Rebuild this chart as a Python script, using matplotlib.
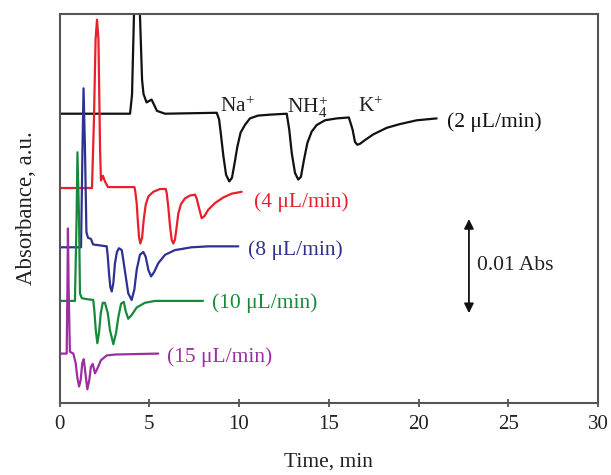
import matplotlib
matplotlib.use("Agg")
import matplotlib.pyplot as plt

# ---- data (time in min, signal in mAbs, traces offset vertically) ----
t_2 = [0.08, 3.93, 4.04, 4.15, 4.32, 4.48, 4.60, 4.68, 4.85, 5.13, 5.43, 5.88,
       8.76, 8.89, 8.98, 9.13, 9.28, 9.46, 9.61, 9.76, 9.91, 10.09, 10.33, 10.61, 11.06, 11.73, 12.66,
       12.80, 12.94, 13.12, 13.30, 13.45, 13.62, 13.81, 14.05, 14.33, 14.79, 15.44, 16.12,
       16.33, 16.46, 16.59, 16.74, 17.02, 17.48, 18.23, 18.97, 19.90, 21.01]
v_2 = [30.7, 30.7, 32.7, 41.3, 47.1, 41.3, 34.3, 32.8, 31.9, 32.2, 31.0, 30.7,
       30.8, 30.1, 28.7, 26.2, 24.2, 23.5, 23.9, 25.5, 27.2, 28.7, 29.5, 30.2, 30.5, 30.6, 30.7,
       29.0, 26.5, 24.4, 23.7, 24.0, 25.8, 27.6, 28.8, 29.5, 30.0, 30.2, 30.3,
       29.0, 27.7, 27.4, 27.5, 27.9, 28.5, 29.2, 29.6, 30.0, 30.2]

t_4 = [0.08, 1.81, 1.92, 2.01, 2.09, 2.17, 2.26, 2.31, 2.42, 2.53, 2.70,
       4.17, 4.21, 4.30, 4.36, 4.43, 4.50, 4.60, 4.69, 4.80, 4.95,
       5.23, 5.60, 5.92, 5.97, 6.06, 6.16, 6.25, 6.34, 6.43, 6.53,
       6.62, 6.77, 6.99, 7.27, 7.55, 7.64, 7.77, 7.92, 8.07, 8.29,
       8.66, 9.13, 9.59, 10.15]
v_4 = [22.8, 22.8, 30.1, 38.6, 40.7, 38.6, 26.9, 23.6, 24.1, 23.5, 22.9,
       22.9, 22.6, 21.2, 19.4, 17.6, 16.9, 17.5, 19.4, 21.0, 21.9,
       22.4, 22.7, 22.7, 22.3, 20.8, 18.7, 17.3, 16.9, 17.3, 18.7,
       20.1, 21.1, 21.7, 22.0, 22.1, 21.7, 20.7, 19.6, 19.8, 20.5,
       21.2, 21.8, 22.2, 22.4]

t_8 = [0.08, 1.20, 1.28, 1.34, 1.42, 1.50, 1.59, 1.75, 1.87,
       2.63, 2.69, 2.76, 2.83, 2.91, 3.00, 3.09, 3.20, 3.31, 3.47,
       3.55, 3.69, 3.83, 4.02, 4.17, 4.30, 4.48, 4.67, 4.80, 4.95,
       5.10, 5.28, 5.50, 5.88, 6.43, 7.36, 8.29, 9.96]
v_8 = [16.5, 16.5, 26.9, 33.4, 26.9, 18.1, 17.5, 17.4, 16.8,
       16.6, 15.5, 13.7, 12.3, 11.8, 12.7, 14.8, 16.0, 16.4, 16.2,
       15.2, 13.4, 11.6, 10.9, 12.0, 14.1, 15.7, 16.0, 15.5, 14.1,
       13.4, 13.9, 14.8, 15.7, 16.2, 16.5, 16.6, 16.6]

t_10 = [0.08, 0.86, 0.95, 1.00, 1.09, 1.14, 1.24, 1.48, 1.88, 1.94,
        2.02, 2.11, 2.20, 2.30, 2.41, 2.53, 2.69, 2.81, 3.00, 3.15,
        3.28, 3.43, 3.58, 3.69, 3.83, 4.02, 4.30, 4.76, 5.32, 5.88, 7.99]
v_10 = [10.8, 10.8, 19.4, 26.6, 19.4, 11.6, 11.1, 11.0, 10.9, 9.8,
        7.7, 6.3, 7.4, 9.5, 10.6, 10.6, 9.5, 7.7, 6.2, 7.4,
        9.1, 10.5, 10.7, 9.7, 8.9, 9.3, 10.1, 10.6, 10.8, 10.8, 10.8]

t_15 = [0.08, 0.40, 0.44, 0.47, 0.51, 0.58, 0.77, 0.90, 0.99, 1.09,
        1.18, 1.27, 1.35, 1.42, 1.55, 1.66, 1.75, 1.85, 1.98, 2.13,
        2.31, 2.63, 3.09, 5.50]
v_15 = [5.2, 5.2, 12.0, 18.5, 12.0, 5.4, 5.2, 4.2, 2.7, 1.7,
        2.4, 4.2, 4.6, 3.5, 1.4, 2.4, 3.8, 4.1, 3.1, 3.7,
        4.5, 5.0, 5.1, 5.2]

series_labels = ["(2 μL/min)", "(4 μL/min)", "(8 μL/min)", "(10 μL/min)", "(15 μL/min)"]
series_colors = ["#111111", "#e8202a", "#2e3192", "#178a3a", "#9b2fa0"]
label_pos = [(21.59, 29.8), (10.84, 21.3), (10.50, 16.2), (8.50, 10.6), (5.99, 4.8)]

ion_labels = ["Na$^{+}$", "NH$_{4}^{+}$", "K$^{+}$"]
ion_pos = [(8.94, 31.4), (12.67, 31.4), (16.63, 31.4)]

x_ticks = [0, 5, 10, 15, 20, 25, 30]

# ---- style ----
FONT = "Liberation Serif"
plt.rcParams["font.family"] = [FONT, "DejaVu Serif"]
plt.rcParams["mathtext.fontset"] = "custom"
plt.rcParams["mathtext.rm"] = FONT
plt.rcParams["mathtext.it"] = FONT + ":italic"
plt.rcParams["mathtext.default"] = "rm"

fig = plt.figure(figsize=(6.11, 4.75), dpi=100)
ax = fig.add_axes([59.5 / 611, (475 - 402.5) / 475, (598 - 59.5) / 611, (402.5 - 14) / 475])

xs = [t_2, t_4, t_8, t_10, t_15]
ys = [v_2, v_4, v_8, v_10, v_15]
for x, y, c in zip(xs, ys, series_colors):
    ax.plot(x, y, color=c, lw=1.6, solid_joinstyle="round", solid_capstyle="round")

fs = 15.5
for lab, (px, py), c in zip(series_labels, label_pos, series_colors):
    ax.text(px, py, lab, color=c, fontsize=fs, ha="left", va="center")
for lab, (px, py) in zip(ion_labels, ion_pos):
    ax.text(px, py, lab, color="#222222", fontsize=fs, ha="left", va="center")

# scale bar 0.01 Abs = 10 mAbs
ax.annotate("", xy=(22.81, 9.5), xytext=(22.81, 19.5),
            arrowprops=dict(arrowstyle="<|-|>", color="#111111", lw=1.3,
                            mutation_scale=14, shrinkA=0, shrinkB=0))
ax.text(23.26, 14.6, "0.01 Abs", fontsize=fs, color="#222222", ha="left", va="center")

ax.set_xlim(0, 30)
ax.set_ylim(0, 41.3)
ax.set_xticks(x_ticks)
ax.set_yticks([])
ax.tick_params(axis="x", direction="inout", length=6, width=1.2, colors="#444444",
               labelcolor="#222222", labelsize=15, pad=6)
for s in ax.spines.values():
    s.set_color("#555555")
    s.set_linewidth(1.5)

ax.set_xlabel("Time, min", fontsize=15.5, color="#222222", labelpad=13)
ax.set_ylabel("Absorbance, a.u.", fontsize=16.5, color="#222222", labelpad=16)

fig.savefig("out.png", dpi=100)
